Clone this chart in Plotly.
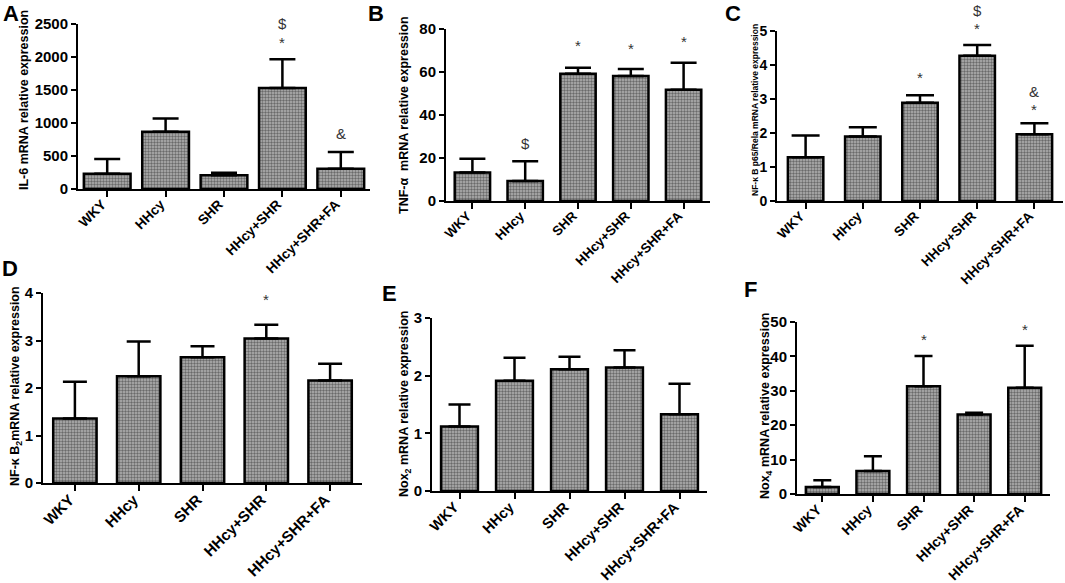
import plotly.graph_objects as go

W, H = 1065, 583

groups = ["WKY", "HHcy", "SHR", "HHcy+SHR", "HHcy+SHR+FA"]

# mean values and upper error (SEM)
il6_mean = [232, 867, 207, 1532, 307]
il6_err = [222, 202, 40, 434, 252]
tnf_mean = [13.2, 9.3, 59.2, 58.1, 51.7]
tnf_err = [6.5, 9.2, 2.8, 3.3, 12.6]
p65_mean = [1.29, 1.90, 2.89, 4.27, 1.96]
p65_err = [0.64, 0.27, 0.22, 0.32, 0.33]
nfkb2_mean = [1.36, 2.25, 2.65, 3.04, 2.16]
nfkb2_err = [0.77, 0.73, 0.23, 0.29, 0.35]
nox2_mean = [1.12, 1.91, 2.11, 2.14, 1.33]
nox2_err = [0.38, 0.40, 0.22, 0.30, 0.53]
nox4_mean = [2.0, 6.7, 31.3, 23.1, 30.9]
nox4_err = [2.0, 4.3, 8.8, 0.5, 12.2]

# significance marks: (group index, y value, symbol)
il6_marks = [(3, 2510, "$"), (3, 2218, "*"), (4, 847, "&")]
tnf_marks = [(1, 26.9, "$"), (2, 72.2, "*"), (3, 71.1, "*"), (4, 74.3, "*")]
p65_marks = [(2, 3.63, "*"), (3, 5.07, "*"), (3, 5.6, "$"), (4, 2.68, "*"), (4, 3.21, "&")]
nfkb2_marks = [(3, 3.86, "*")]
nox2_marks = []
nox4_marks = [(2, 44.9, "*"), (4, 47.9, "*")]

# letter, y title, mean, err, marks, y max, dtick,
# box (left, right, top, bottom px), letter centre, title centre, title size,
# category font size, y tick font size, bar width, cap half-width
panels = [
    ("A", "IL-6 mRNA relative expression", il6_mean, il6_err, il6_marks, 2500, 500,
     (78, 370, 24, 189), (11, 13), (24, 100), 12.5, 13.7, 15, 0.8, 13),
    ("B", "TNF-α  mRNA relative expression", tnf_mean, tnf_err, tnf_marks, 80, 20,
     (446, 710, 29, 201), (376, 13), (404, 115), 12.5, 13.3, 15, 0.67, 13),
    ("C", "NF-κ B p65/Rela mRNA relative expression", p65_mean, p65_err, p65_marks, 5, 1,
     (777, 1063, 31, 201), (733, 14), (755, 110), 8.5, 13.5, 14, 0.62, 14),
    ("D", "NF-κ B<sub>2</sub>mRNA relative expression", nfkb2_mean, nfkb2_err, nfkb2_marks, 4, 1,
     (43, 362, 293, 483), (10, 268), (16, 386), 12.5, 15.2, 15, 0.68, 12),
    ("E", "Nox<sub>2</sub> mRNA relative expression", nox2_mean, nox2_err, nox2_marks, 3, 1,
     (432, 707, 318, 491), (389, 293), (405, 404), 12.5, 14.5, 15, 0.67, 11),
    ("F", "Nox<sub>4</sub> mRNA relative expression", nox4_mean, nox4_err, nox4_marks, 50, 10,
     (797, 1050, 322, 494), (750, 289), (766, 406), 12.5, 14, 15, 0.65, 9),
]

FONT = "Liberation Sans"
fig = go.Figure()
annotations = []
layout = {}

for i, (letter, ytitle, mean, err, marks, ymax, dtick, box, lpos, tpos,
        tsize, csize, ysize, bw, cap) in enumerate(panels):
    n = "" if i == 0 else str(i + 1)
    left, right, top, bottom = box
    fig.add_trace(go.Bar(
        x=groups, y=mean, width=bw,
        xaxis="x" + n, yaxis="y" + n,
        marker=dict(color="#9c9c9c",
                    line=dict(color="black", width=2.5),
                    pattern=dict(shape=".", fgcolor="#202020", bgcolor="#b4b4b4",
                                 size=3, solidity=0.5)),
        error_y=dict(type="data", symmetric=False, array=err, arrayminus=[0] * len(err),
                     color="black", thickness=2.5, width=cap),
        showlegend=False,
    ))
    layout["xaxis" + n] = dict(
        domain=[left / W, right / W], anchor="y" + n, type="category",
        range=[-0.5, 4.5], showline=True, linecolor="black", linewidth=2,
        ticks="outside", ticklen=6, tickwidth=2, tickcolor="black", tickangle=-45,
        ticklabelstandoff=-6, ticklabelshift=-5, automargin=False,
        tickfont=dict(family=FONT, size=csize, color="black", weight="bold"),
        showgrid=False, zeroline=False, fixedrange=True,
    )
    layout["yaxis" + n] = dict(
        domain=[1 - bottom / H, 1 - top / H], anchor="x" + n,
        range=[0, ymax], dtick=dtick, showline=True, linecolor="black", linewidth=2,
        ticks="outside", ticklen=5, tickwidth=2, tickcolor="black", automargin=False,
        tickfont=dict(family=FONT, size=ysize, color="black", weight="bold"),
        showgrid=False, zeroline=False, fixedrange=True,
    )
    annotations.append(dict(
        text="<b>" + letter + "</b>", x=lpos[0] / W, y=1 - lpos[1] / H,
        xref="paper", yref="paper", showarrow=False, xanchor="center", yanchor="middle",
        borderpad=0, font=dict(family=FONT, size=22, color="black"),
    ))
    annotations.append(dict(
        text="<b>" + ytitle + "</b>", x=tpos[0] / W, y=1 - tpos[1] / H,
        xref="paper", yref="paper", showarrow=False, textangle=-90,
        xanchor="center", yanchor="middle",
        font=dict(family=FONT, size=tsize, color="black"),
    ))
    for gi, yv, sym in marks:
        annotations.append(dict(
            text=sym, x=groups[gi], y=yv / ymax, xref="x" + n, yref="y" + n + " domain",
            showarrow=False, xanchor="center", yanchor="middle",
            font=dict(family=FONT, size=15, color="#333333"),
        ))

fig.update_layout(
    width=W, height=H,
    margin=dict(l=0, r=0, t=0, b=0),
    paper_bgcolor="white", plot_bgcolor="white",
    annotations=annotations,
    **layout,
)

# pin the figure to the top-left corner of the page
pin = ("var d=document.getElementById('{plot_id}');"
       "d.style.position='fixed';d.style.top='0';d.style.left='0';"
       "document.body.style.margin='0';")
fig.write_html("out.html", config={"displayModeBar": False}, post_script=pin)
